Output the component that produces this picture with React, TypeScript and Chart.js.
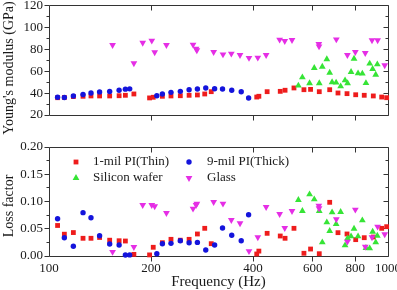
import React, { useEffect, useRef } from 'react';
import { Chart, registerables } from 'chart.js';

Chart.register(...registerables);

// ---------- data ----------
const xTickValues = [100, 200, 400, 600, 800, 1000];
const xMajorMarks = [200, 400, 600, 800];

// 1-mil PI (Thin) - red squares
const freqThin = [106, 111, 118, 126, 133, 141, 151, 161, 168, 178, 198, 203, 216, 229, 244, 259, 274, 288, 301, 410, 416, 440, 481, 497, 528, 565, 591, 627, 673, 712, 757, 803, 851, 905, 958, 991];
const youngThin = [35.8, 36.0, 36.8, 37.1, 37.4, 37.4, 37.4, 37.6, 38.0, 39.2, 35.6, 36.2, 37.1, 37.4, 37.6, 38.0, 38.3, 39.2, 41.3, 36.4, 37.1, 41.3, 41.6, 42.6, 44.7, 43.1, 43.4, 41.3, 43.1, 40.1, 39.5, 38.5, 38.0, 37.4, 36.4, 35.8];
const lossThin = [0.056, 0.040, 0.043, 0.0325, 0.0325, 0.034, 0.029, 0.028, 0.0275, 0.003, 0.002, 0.016, 0.0244, 0.0306, 0.029, 0.0306, 0.0404, 0.0508, 0.0226, 0.0037, 0.009, 0.0416, 0.0367, 0.0325, 0.0508, 0.005, 0.0128, 0.0042, 0.0985, 0.0428, 0.0404, 0.030, 0.0336, 0.0348, 0.0508, 0.0538];

// 9-mil PI (Thick) - blue circles
const freqThick = [106, 111, 118, 126, 133, 141, 151, 161, 168, 173, 208, 216, 229, 244, 259, 274, 290, 308, 325, 346, 369, 388];
const youngThick = [36.2, 36.0, 37.4, 38.7, 40.1, 41.1, 41.5, 42.6, 43.6, 43.9, 37.6, 39.2, 40.7, 41.6, 43.1, 43.7, 44.7, 44.0, 43.7, 42.6, 41.3, 35.5];
const lossThick = [0.0684, 0.0336, 0.0178, 0.0795, 0.0703, 0.0372, 0.022, 0.0202, 0.0018, 0.002, 0.0042, 0.0226, 0.0232, 0.028, 0.0244, 0.025, 0.011, 0.0202, 0.0514, 0.038, 0.028, 0.0758];

// Silicon wafer - green triangles
const freqSi = [544, 559, 587, 606, 627, 640, 660, 673, 684, 703, 725, 747, 760, 778, 794, 816, 840, 861, 883, 901, 920, 930];
const youngSi = [46.8, 54.4, 49.0, 62.9, 49.0, 64.1, 70.9, 58.6, 49.9, 49.6, 46.2, 51.7, 49.0, 59.3, 71.4, 58.1, 57.8, 49.2, 66.9, 62.0, 56.8, 66.3];
const lossSi = [0.1028, 0.0826, 0.1132, 0.104, 0.0826, 0.025, 0.0618, 0.0459, 0.0801, 0.0587, 0.0807, 0.0196, 0.0325, 0.0361, 0.050, 0.0361, 0.0655, 0.0147, 0.014, 0.0446, 0.025, 0.0372];

// Glass - magenta down triangles
const freqGlass = [154, 178, 189, 201, 205, 222, 266, 271.5, 273, 306, 326, 345, 366, 389, 413, 437, 479, 496, 521, 625, 626, 704, 759, 801, 857, 897, 932, 978];
const youngGlass = [83.9, 67.2, 86.0, 87.9, 77.3, 83.9, 84.2, 80.6, 79.1, 77.5, 75.4, 76.0, 74.8, 72.1, 72.4, 74.8, 88.8, 87.6, 88.5, 84.8, 82.7, 89.1, 74.8, 77.5, 76.6, 88.2, 88.2, 65.4];
const lossGlass = [0.0074, 0.0165, 0.0936, 0.0936, 0.0912, 0.0789, 0.0868, 0.0936, 0.096, 0.0991, 0.096, 0.066, 0.060, 0.009, 0.0343, 0.0899, 0.077, 0.0514, 0.0826, 0.0924, 0.0875, 0.0673, 0.0263, 0.085, 0.017, 0.0343, 0.0538, 0.0398];

const seriesNames = ['1-mil PI(Thin)', '9-mil PI(Thick)', 'Silicon wafer', 'Glass'];

// ---------- styles ----------
const FONT = "'Liberation Serif', 'Times New Roman', serif";
const INK = '#1a1a1a';
const RED = '#ee1c1c';
const BLUE = '#1414dc';
const GREEN = '#36e436';
const MAGENTA = '#e52ee5';

const styles = [
  { color: RED, pointStyle: 'rect', radius: 3.4, rotation: 0, order: 4 },
  { color: BLUE, pointStyle: 'circle', radius: 2.7, rotation: 0, order: 3 },
  { color: GREEN, pointStyle: 'triangle', radius: 3.9, rotation: 0, order: 2 },
  { color: MAGENTA, pointStyle: 'triangle', radius: 3.9, rotation: 180, order: 1 },
];

function pts(xs: number[], ys: number[]) {
  return xs.map((x, i) => ({ x, y: ys[i] }));
}

function makeDatasets(values: number[][]) {
  const freqs = [freqThin, freqThick, freqSi, freqGlass];
  return values.map((vals, i) => ({
    label: seriesNames[i],
    data: pts(freqs[i], vals),
    backgroundColor: styles[i].color,
    borderColor: styles[i].color,
    borderWidth: 0,
    pointStyle: styles[i].pointStyle as any,
    pointRadius: styles[i].radius,
    pointRotation: styles[i].rotation,
    order: styles[i].order,
    clip: false as any,
    showLine: false,
  }));
}

const framePlugin = {
  id: 'frame',
  beforeDatasetsDraw(chart: any, _a: any, opts: any) {
    const { ctx, chartArea } = chart;
    const xs = chart.scales.x;
    const ys = chart.scales.y;
    const L = Math.floor(chartArea.left) + 0.5;
    const R = Math.floor(chartArea.right) + 0.5;
    const T = Math.floor(chartArea.top) + 0.5;
    const B = Math.floor(chartArea.bottom) + 0.5;
    ctx.save();
    ctx.strokeStyle = '#333';
    ctx.lineWidth = 1;
    ctx.beginPath();
    ctx.rect(L, T, R - L, B - T);
    const n = Math.round((opts.max - opts.min) / opts.minor);
    for (let i = 0; i <= n; i++) {
      const v = opts.min + i * opts.minor;
      const py = Math.floor(ys.getPixelForValue(v)) + 0.5;
      const r = v / opts.major;
      const major = Math.abs(r - Math.round(r)) < 1e-6;
      const len = major ? 5 : 3;
      ctx.moveTo(L - len, py);
      ctx.lineTo(L, py);
      ctx.moveTo(R, py);
      ctx.lineTo(R - len, py);
    }
    for (const v of xMajorMarks) {
      const px = Math.floor(xs.getPixelForValue(v)) + 0.5;
      ctx.moveTo(px, B);
      ctx.lineTo(px, B + 5);
      ctx.moveTo(px, T);
      ctx.lineTo(px, T + 5);
    }
    ctx.stroke();
    // rotated y-axis title
    if (opts.title) {
      ctx.translate(opts.titleX, opts.titleY);
      ctx.rotate(-Math.PI / 2);
      ctx.font = `14px ${FONT}`;
      ctx.fillStyle = INK;
      ctx.textAlign = 'center';
      ctx.textBaseline = 'middle';
      ctx.fillText(opts.title, 0, 0);
    }
    ctx.restore();
  },
};

const legendPlugin = {
  id: 'boxLegend',
  afterDraw(chart: any, _a: any, opts: any) {
    if (!opts || !opts.show) return;
    const { ctx } = chart;
    const cols = [76, 189];
    const textCols = [93, 207];
    const rows = [32, 48];
    ctx.save();
    ctx.font = `13px ${FONT}`;
    ctx.textBaseline = 'middle';
    ctx.textAlign = 'left';
    seriesNames.forEach((name, i) => {
      const c = i % 2;
      const r = Math.floor(i / 2);
      const x = cols[c];
      const y = rows[r];
      const st = styles[i];
      ctx.fillStyle = st.color;
      ctx.beginPath();
      if (st.pointStyle === 'rect') {
        const s = st.radius * Math.SQRT1_2;
        ctx.rect(x - s, y - s, 2 * s, 2 * s);
      } else if (st.pointStyle === 'circle') {
        ctx.arc(x, y, st.radius, 0, Math.PI * 2);
      } else {
        const rad0 = (st.rotation * Math.PI) / 180;
        for (let k = 0; k < 3; k++) {
          const a = rad0 + (k * 2 * Math.PI) / 3;
          const px = x + Math.sin(a) * st.radius;
          const py = y - Math.cos(a) * st.radius;
          if (k === 0) ctx.moveTo(px, py);
          else ctx.lineTo(px, py);
        }
        ctx.closePath();
      }
      ctx.fill();
      ctx.fillStyle = INK;
      ctx.fillText(name, textCols[c], y);
    });
    ctx.restore();
  },
};

function baseX(showTicks: boolean, height: number) {
  return {
    type: 'logarithmic' as const,
    min: 100,
    max: 1000,
    display: true,
    grid: { display: false, drawTicks: false },
    border: { display: false },
    ticks: {
      display: showTicks,
      autoSkip: false,
      maxRotation: 0,
      padding: 5,
      color: INK,
      font: { family: FONT, size: 13 },
      callback: (v: any) => String(v),
    },
    title: {
      display: showTicks,
      text: 'Frequency (Hz)',
      color: INK,
      font: { family: FONT, size: 15, lineHeight: 1 },
      padding: 0,
    },
    afterBuildTicks: (s: any) => {
      s.ticks = xTickValues.map((v) => ({ value: v }));
    },
    afterFit: (s: any) => {
      s.height = height;
      s.paddingLeft = 0;
      s.paddingRight = 0;
    },
  };
}

function baseY(min: number, max: number, step: number, fmt: (v: number) => string) {
  return {
    min,
    max,
    grid: { display: false, drawTicks: false },
    border: { display: false },
    ticks: {
      stepSize: step,
      padding: 6,
      color: INK,
      font: { family: FONT, size: 13 },
      callback: (v: any) => fmt(Number(v)),
    },
    afterFit: (s: any) => {
      s.width = 49;
      s.paddingTop = 0;
      s.paddingBottom = 0;
    },
  };
}

export default function App() {
  const topRef = useRef<HTMLCanvasElement>(null);
  const botRef = useRef<HTMLCanvasElement>(null);

  useEffect(() => {
    const top = new Chart(topRef.current as HTMLCanvasElement, {
      type: 'scatter',
      data: { datasets: makeDatasets([youngThin, youngThick, youngSi, youngGlass]) as any },
      plugins: [framePlugin as any],
      options: {
        animation: false,
        responsive: false,
        devicePixelRatio: 1,
        events: [],
        layout: { padding: { top: 5.5, right: 9, left: 0, bottom: 0 } },
        plugins: {
          legend: { display: false },
          tooltip: { enabled: false },
          frame: { min: 20, max: 120, major: 20, minor: 10, title: "Young's modulus (GPa)", titleX: 9, titleY: 68 },
        } as any,
        scales: {
          x: baseX(false, 25) as any,
          y: baseY(20, 120, 20, (v) => String(Math.round(v))) as any,
        },
      },
    });
    const bot = new Chart(botRef.current as HTMLCanvasElement, {
      type: 'scatter',
      data: { datasets: makeDatasets([lossThin, lossThick, lossSi, lossGlass]) as any },
      plugins: [framePlugin as any, legendPlugin as any],
      options: {
        animation: false,
        responsive: false,
        devicePixelRatio: 1,
        events: [],
        layout: { padding: { top: 17, right: 9, left: 0, bottom: 0 } },
        plugins: {
          legend: { display: false },
          tooltip: { enabled: false },
          frame: { min: 0, max: 0.2, major: 0.05, minor: 0.025, title: 'Loss factor', titleX: 9, titleY: 76 },
          boxLegend: { show: true },
        } as any,
        scales: {
          x: baseX(true, 34) as any,
          y: baseY(0, 0.2, 0.05, (v) => v.toFixed(2)) as any,
        },
      },
    });
    return () => {
      top.destroy();
      bot.destroy();
    };
  }, []);

  return (
    <div style={{ position: 'absolute', left: 0, top: 0, width: 397, height: 290, background: '#fff', overflow: 'hidden' }}>
      <canvas ref={topRef} width={397} height={140} style={{ position: 'absolute', left: 0, top: 0, display: 'block' }} />
      <canvas ref={botRef} width={397} height={160} style={{ position: 'absolute', left: 0, top: 130, display: 'block' }} />
    </div>
  );
}
